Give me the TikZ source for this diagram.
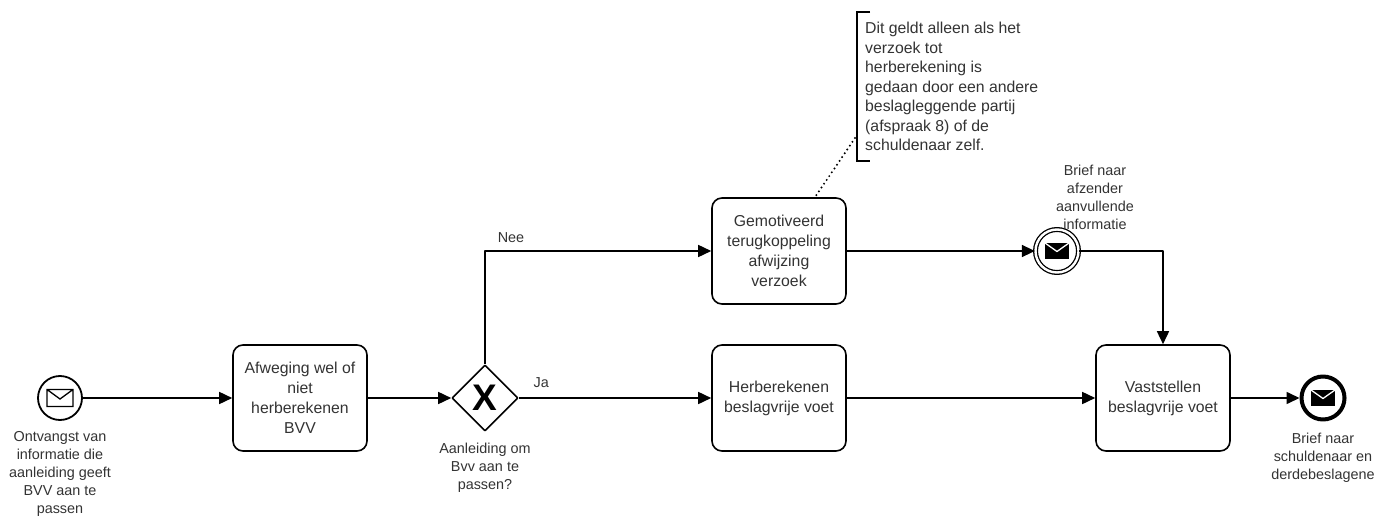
\documentclass[tikz,border=0pt]{standalone}
\usepackage{fontspec}
\setmainfont{Liberation Sans}
\usetikzlibrary{arrows.meta,positioning,shapes.geometric}

\tikzset{
	envopen/.pic={\draw[line width=1.3pt,line join=miter] (-13,-8.5) rectangle (13,8.5) (-13,-8.5)--(0,1)--(13,-8.5);},
	envfull/.pic={\fill (-12,-8) rectangle (12,8); \draw[white,line width=1.3pt] (-12,-8)--(0,0.5)--(12,-8);}
}

\begin{document}
\begin{tikzpicture}[x=1pt,y=-1pt,>={Triangle[length=13pt,width=12pt]},line join=round,
	task/.style={draw,line width=1.6pt,rounded corners=10pt,minimum width=134pt,minimum height=106pt,align=center,text=black!80,font=\fontsize{15.8}{20}\selectfont},
	flow/.style={->,line width=1.6pt},
	lbl/.style={align=center,inner sep=0pt,text=black!80,font=\fontsize{14.4}{18}\selectfont},
	startev/.style={circle,draw,line width=1.8pt,minimum size=44pt,inner sep=0pt},
	interev/.style={circle,draw,double,line width=1.3pt,double distance=2.4pt,minimum size=43pt,inner sep=0pt},
	stopev/.style={circle,draw,line width=4pt,minimum size=43pt,inner sep=0pt},
	gate/.style={diamond,draw,line width=1.6pt,aspect=1,minimum size=66pt,inner sep=0pt,font=\fontsize{37}{37}\bfseries\selectfont},
	note/.style={align=left,inner xsep=8pt,inner ysep=10pt,text=black!80,font=\fontsize{15.8}{19.5}\selectfont}]
	\useasboundingbox (0,0) rectangle (1392,516);
	% events, tasks, gateway
	\node[startev] (start) at (60,398) {};
	\pic at (start) {envopen};
	\node[task] (afweg) at (300,398) {Afweging wel of\\niet\\herberekenen\\BVV};
	\node[gate] (gw) at (485,398) {X};
	\node[task] (terug) at (779,251) {Gemotiveerd\\terugkoppeling\\afwijzing\\verzoek};
	\node[task] (herb) at (779,398) {Herberekenen\\beslagvrije voet};
	\node[interev] (inter) at (1057,251) {};
	\pic at (inter) {envfull};
	\node[task] (vast) at (1163,398) {Vaststellen\\beslagvrije voet};
	\node[stopev] (stop) at (1323,398) {};
	\pic at (stop) {envfull};
	% labels
	\node[lbl,below=10pt of start] (startlbl) {Ontvangst van\\informatie die\\aanleiding geeft\\BVV aan te\\passen};
	\node[lbl,below=11pt of gw] (gwlbl) {Aanleiding om\\Bvv aan te\\passen?};
	\node[lbl,above=-1pt of inter,xshift=38pt] (interlbl) {Brief naar\\afzender\\aanvullende\\informatie};
	\node[lbl,below=11pt of stop] (stoplbl) {Brief naar\\schuldenaar en\\derdebeslagene};
	% annotation
	\node[note,anchor=north west] (ann) at (857,12) {Dit geldt alleen als het\\verzoek tot\\herberekening is\\gedaan door een andere\\beslagleggende partij\\(afspraak 8) of de\\schuldenaar zelf.};
	\draw[line width=1.6pt,line join=miter] ([xshift=13pt]ann.north west)--(ann.north west)--(ann.south west)--([xshift=13pt]ann.south west);
	\draw[line width=2.2pt,line cap=round,dash pattern=on 0pt off 4.6pt] ([xshift=-2pt,yshift=23pt]ann.south west)--([xshift=36pt]terug.north);
	% flows
	\draw[flow] (start)--(afweg);
	\draw[flow] (afweg)--(gw);
	\draw[flow] (gw.north)|-node[lbl,pos=.5,anchor=south west,xshift=12pt,yshift=8pt]{Nee}(terug.west);
	\draw[flow] (gw.east)--node[lbl,pos=0,anchor=south west,xshift=14pt,yshift=10pt]{Ja}(herb.west);
	\draw[flow] (terug)--(inter);
	\draw[flow] (inter)-|(vast);
	\draw[flow] (herb)--(vast);
	\draw[flow] (vast)--(stop);
\end{tikzpicture}
\end{document}
